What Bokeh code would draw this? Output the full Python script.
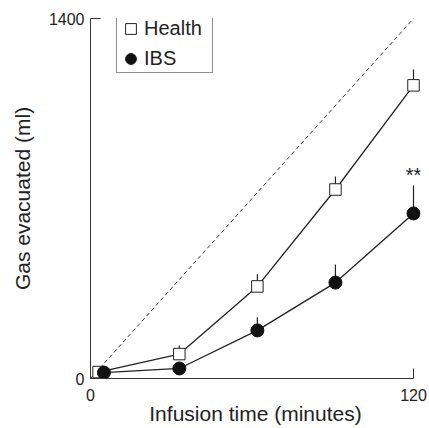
from bokeh.plotting import figure
from bokeh.models import (FixedTicker, Legend, LegendItem, Label,
                          ColumnDataSource, Range1d)
from bokeh.embed import file_html
from bokeh.resources import INLINE

# ---- data ----
time_health = [3, 33, 62, 91, 120]
gas_health = [25, 95, 358, 735, 1140]
err_health = [0, 33, 47, 51, 62]

time_ibs = [5, 33, 62, 91, 120]
gas_ibs = [23, 39, 187, 373, 642]
err_ibs = [0, 15, 51, 70, 109]

identity_time = [0, 120]
identity_gas = [0, 1400]

x_ticks = [0, 120]
y_ticks = [0, 1400]
signif_label = "**"

FONT = "Liberation Sans"
INK = "#222222"

p = figure(width=429, height=428,
           x_range=Range1d(0, 122.6), y_range=Range1d(0, 1400),
           output_backend="svg", toolbar_location=None,
           min_border_left=90, min_border_right=9,
           min_border_top=18, min_border_bottom=50)
p.outline_line_color = None
p.grid.visible = False
p.background_fill_color = "white"
p.border_fill_color = "white"

# axes
p.xaxis.ticker = FixedTicker(ticks=x_ticks)
p.yaxis.ticker = FixedTicker(ticks=y_ticks)
p.xaxis.bounds = (x_ticks[0], x_ticks[-1])
p.xaxis.axis_label = "Infusion time (minutes)"
p.yaxis.axis_label = "Gas evacuated (ml)"
for ax in (p.xaxis[0], p.yaxis[0]):
    ax.major_tick_in = 10
    ax.major_tick_out = 0
    ax.minor_tick_line_color = None
    ax.axis_line_color = "#333333"
    ax.axis_line_width = 1
    ax.major_tick_line_color = "#333333"
    ax.major_label_text_font = FONT
    ax.major_label_text_font_size = "16px"
    ax.major_label_text_color = INK
    ax.axis_label_text_font = FONT
    ax.axis_label_text_font_size = "21px"
    ax.axis_label_text_font_style = "normal"
    ax.axis_label_text_color = INK
p.xaxis.major_label_standoff = 10
p.xaxis.axis_label_standoff = -2
p.yaxis.major_label_standoff = 6
p.yaxis.axis_label_standoff = 12

# identity (dashed) line
p.line(identity_time, identity_gas, line_color="#333333",
       line_width=1, line_dash="4 3")

# series lines
p.line(time_health, gas_health, line_color=INK, line_width=1.3)
p.line(time_ibs, gas_ibs, line_color=INK, line_width=1.3)

# error bars (upper only)
src_h = ColumnDataSource(dict(x=time_health, y=gas_health,
                              top=[g + e for g, e in zip(gas_health, err_health)]))
src_i = ColumnDataSource(dict(x=time_ibs, y=gas_ibs,
                              top=[g + e for g, e in zip(gas_ibs, err_ibs)]))
p.segment(x0="x", y0="y", x1="x", y1="top", source=src_h,
          line_color=INK, line_width=1.2)
p.segment(x0="x", y0="y", x1="x", y1="top", source=src_i,
          line_color=INK, line_width=1.2)

# markers
r_h = p.scatter("x", "y", source=src_h, marker="square", size=11.5,
                fill_color="white", line_color=INK, line_width=1)
r_i = p.scatter("x", "y", source=src_i, marker="circle", size=13,
                fill_color="#111111", line_color="#111111", line_width=1)

# significance label
p.add_layout(Label(x=time_ibs[-1], y=gas_ibs[-1] + err_ibs[-1] + 40,
                   text=signif_label, text_align="center",
                   text_baseline="alphabetic", text_font=FONT,
                   text_font_size="20px", text_color=INK))

legend = Legend(items=[LegendItem(label="Health", renderers=[r_h]),
                       LegendItem(label="IBS", renderers=[r_i])],
                location=(26, 305), margin=0, padding=0, spacing=3,
                glyph_width=27, glyph_height=27, label_standoff=0,
                label_width=68,
                label_text_font=FONT, label_text_font_size="20px",
                label_text_color=INK,
                border_line_color=INK, border_line_width=1,
                background_fill_color="white", background_fill_alpha=1)
p.add_layout(legend)

open("out.html", "w").write(file_html(p, INLINE))
